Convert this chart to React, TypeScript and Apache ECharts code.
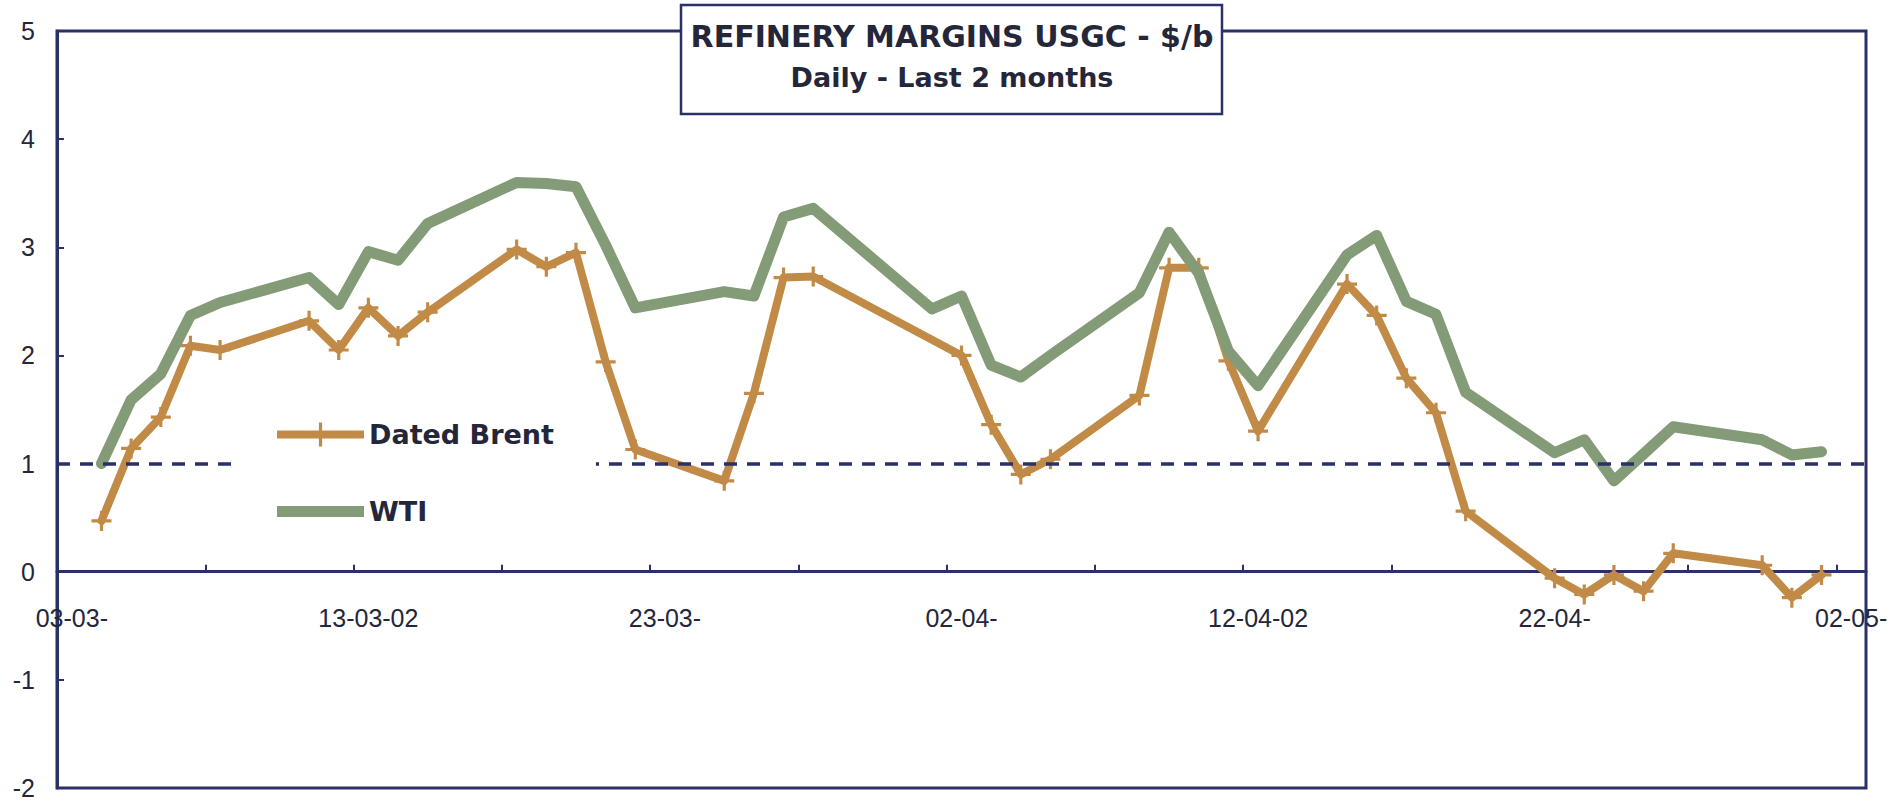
import { useEffect, useRef } from "react";
import * as echarts from "echarts";

// ---- DATA ----
const calendarDays = [
  "03-03-02", "04-03-02", "05-03-02", "06-03-02", "07-03-02", "08-03-02", "09-03-02", "10-03-02",
  "11-03-02", "12-03-02", "13-03-02", "14-03-02", "15-03-02", "16-03-02", "17-03-02", "18-03-02",
  "19-03-02", "20-03-02", "21-03-02", "22-03-02", "23-03-02", "24-03-02", "25-03-02", "26-03-02",
  "27-03-02", "28-03-02", "29-03-02", "30-03-02", "31-03-02",
  "01-04-02", "02-04-02", "03-04-02", "04-04-02", "05-04-02", "06-04-02", "07-04-02", "08-04-02",
  "09-04-02", "10-04-02", "11-04-02", "12-04-02", "13-04-02", "14-04-02", "15-04-02", "16-04-02",
  "17-04-02", "18-04-02", "19-04-02", "20-04-02", "21-04-02", "22-04-02", "23-04-02", "24-04-02",
  "25-04-02", "26-04-02", "27-04-02", "28-04-02", "29-04-02", "30-04-02",
  "01-05-02", "02-05-02",
];

const xTickLabels = ["03-03-", "13-03-02", "23-03-", "02-04-", "12-04-02", "22-04-", "02-05-"];

const tradeDates = [
  "04-03-02", "05-03-02", "06-03-02", "07-03-02", "08-03-02",
  "11-03-02", "12-03-02", "13-03-02", "14-03-02", "15-03-02",
  "18-03-02", "19-03-02", "20-03-02", "21-03-02", "22-03-02",
  "25-03-02", "26-03-02", "27-03-02", "28-03-02",
  "01-04-02", "02-04-02", "03-04-02", "04-04-02", "05-04-02",
  "08-04-02", "09-04-02", "10-04-02", "11-04-02", "12-04-02",
  "15-04-02", "16-04-02", "17-04-02", "18-04-02", "19-04-02",
  "22-04-02", "23-04-02", "24-04-02", "25-04-02", "26-04-02",
  "29-04-02", "30-04-02", "01-05-02",
];

const datedBrent: (number | null)[] = [
  0.47, 1.14, 1.43, 2.09, 2.05,
  2.32, 2.05, 2.44, 2.18, 2.40,
  2.98, 2.82, 2.95, 1.94, 1.13,
  0.84, 1.65, 2.72, 2.73,
  null, 2.00, 1.36, 0.90, 1.04,
  1.63, 2.81, 2.81, 1.95, 1.30,
  2.66, 2.37, 1.79, 1.47, 0.56,
  -0.06, -0.21, -0.03, -0.18, 0.17,
  0.06, -0.24, -0.03,
];

const wti: number[] = [
  1.00, 1.59, 1.83, 2.37, 2.49,
  2.72, 2.47, 2.96, 2.88, 3.22,
  3.60, 3.59, 3.56, 3.02, 2.44,
  2.59, 2.55, 3.28, 3.36,
  2.43, 2.55, 1.91, 1.80, 2.00,
  2.58, 3.14, 2.76, 2.04, 1.72,
  2.93, 3.11, 2.50, 2.38, 1.66,
  1.10, 1.22, 0.84, 1.09, 1.34,
  1.22, 1.08, 1.11,
];

const seriesNames = ["Dated Brent", "WTI"];
const titleLines = ["REFINERY MARGINS USGC - $/b", "Daily - Last 2 months"];
const referenceLevel = 1;
const yMin = -2;
const yMax = 5;
const yStep = 1;

// ---- STYLE / LAYOUT ----
const NAVY = "#2b3166";
const TEXT = "#24263a";
const BRENT = "#c18b47";
const WTI_C = "#849b78";
const AXIS_FONT = "'Liberation Sans', Arial, sans-serif";
const BOLD_FONT = "'DejaVu Sans', sans-serif";

const GRID_TOP = 31;
const GRID_BOTTOM = 13;
const CHART_H = 801;

export default function App() {
  const ref = useRef<HTMLDivElement>(null);

  useEffect(() => {
    if (!ref.current) return;
    const chart = echarts.init(ref.current, null, { renderer: "svg" });

    const plus = "path://M-1.6,-10H1.6V-1.6H10V1.6H1.6V10H-1.6V1.6H-10V-1.6H-1.6Z";
    const brentData = tradeDates
      .map((d, k) => [d, datedBrent[k]])
      .filter((p) => p[1] !== null);
    const wtiData = tradeDates.map((d, k) => [d, wti[k]]);

    const plotH = CHART_H - GRID_TOP - GRID_BOTTOM;
    const zeroOffset = -((0 - yMin) * plotH) / (yMax - yMin);

    chart.setOption({
      animation: false,
      backgroundColor: "#ffffff",
      title: {
        text: titleLines[0],
        subtext: titleLines[1],
        left: "center",
        top: 18,
        padding: 0,
        itemGap: 6,
        z: 20,
        textStyle: {
          fontFamily: BOLD_FONT,
          fontWeight: "bold",
          fontSize: 30,
          lineHeight: 36,
          color: TEXT,
        },
        subtextStyle: {
          fontFamily: BOLD_FONT,
          fontWeight: "bold",
          fontSize: 27,
          lineHeight: 34,
          color: TEXT,
        },
      },
      graphic: [
        {
          type: "rect",
          z: 10,
          silent: true,
          shape: { x: 681, y: 5, width: 541, height: 109 },
          style: { fill: "#ffffff", stroke: NAVY, lineWidth: 2.5 },
        },
      ],
      legend: {
        orient: "vertical",
        left: 234,
        top: 401,
        padding: [20, 42, 8, 43],
        backgroundColor: "#ffffff",
        itemWidth: 87,
        itemHeight: 24,
        itemGap: 50,
        selectedMode: false,
        symbolKeepAspect: true,
        z: 8,
        itemStyle: { borderWidth: 0 },
        textStyle: {
          fontFamily: BOLD_FONT,
          fontWeight: "bold",
          fontSize: 27,
          color: TEXT,
        },
        data: [
          { name: seriesNames[0], icon: "path://M0,8H87V16H0ZM41.9,0H45.1V24H41.9Z" },
          { name: seriesNames[1], icon: "path://M0,0H87V11H0Z" },
        ],
      },
      grid: {
        left: 57,
        right: 38,
        top: GRID_TOP,
        bottom: GRID_BOTTOM,
        show: true,
        borderColor: NAVY,
        borderWidth: 3,
        backgroundColor: "transparent",
        containLabel: false,
        outerBoundsMode: "none",
      },
      xAxis: {
        type: "category",
        data: calendarDays,
        boundaryGap: true,
        position: "bottom",
        offset: zeroOffset,
        axisLine: { onZero: false, lineStyle: { color: NAVY, width: 3 } },
        axisTick: {
          show: true,
          inside: true,
          interval: 4,
          length: 7,
          lineStyle: { color: NAVY, width: 2 },
        },
        axisLabel: {
          interval: 9,
          margin: 34,
          fontSize: 25,
          fontFamily: AXIS_FONT,
          color: TEXT,
          formatter: (_v: string, i: number) => xTickLabels[i / 10] ?? "",
        },
        splitLine: { show: false },
      },
      yAxis: {
        type: "value",
        min: yMin,
        max: yMax,
        interval: yStep,
        axisLine: { show: true, onZero: false, lineStyle: { color: NAVY, width: 3 } },
        axisTick: { show: true, inside: true, length: 7, lineStyle: { color: NAVY, width: 2 } },
        axisLabel: { margin: 22, fontSize: 25, fontFamily: AXIS_FONT, color: TEXT },
        splitLine: { show: false },
      },
      series: [
        {
          name: seriesNames[0],
          type: "line",
          data: brentData,
          connectNulls: true,
          symbol: plus,
          symbolSize: 20,
          showSymbol: true,
          showAllSymbol: true,
          z: 3,
          itemStyle: { color: BRENT },
          lineStyle: { color: BRENT, width: 8, cap: "round", join: "round" },
          emphasis: { disabled: true },
        },
        {
          name: seriesNames[1],
          type: "line",
          data: wtiData,
          symbol: "none",
          showSymbol: false,
          z: 4,
          itemStyle: { color: WTI_C },
          lineStyle: { color: WTI_C, width: 11, cap: "round", join: "round" },
          emphasis: { disabled: true },
          markLine: {
            silent: true,
            symbol: "none",
            z: 5,
            label: { show: false },
            lineStyle: { color: NAVY, width: 3.5, type: [13, 10] },
            emphasis: { disabled: true },
            data: [{ yAxis: referenceLevel }],
          },
        },
      ],
    });

    return () => chart.dispose();
  }, []);

  return (
    <div
      ref={ref}
      style={{ position: "fixed", left: 0, top: 0, width: 1904, height: 801, background: "#fff" }}
    />
  );
}
